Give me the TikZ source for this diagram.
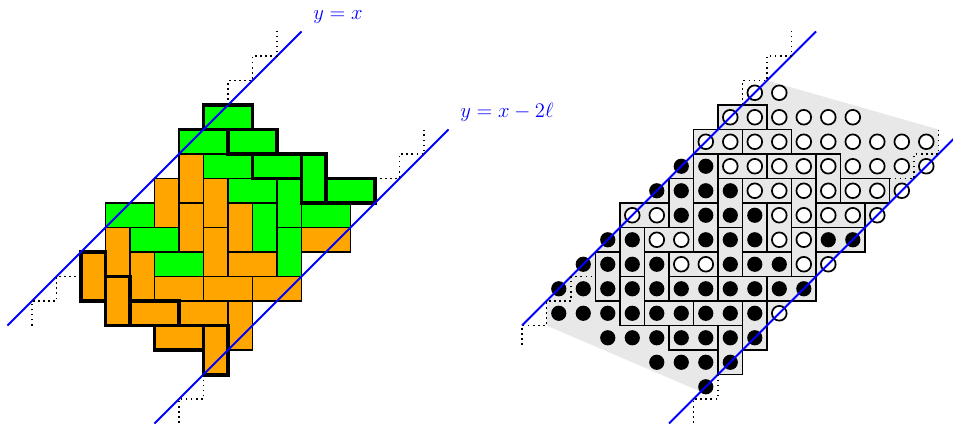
\documentclass[tikz,border=0pt]{standalone}
\definecolor{orng}{RGB}{255,165,0}
\definecolor{grn}{RGB}{0,255,0}
\definecolor{bgray}{RGB}{232,232,232}
\begin{document}
\begin{tikzpicture}[x=0.5cm,y=0.5cm,
  thinedge/.style={draw=black,line width=1.05pt},
  thickedge/.style={line width=2.3pt,line join=miter,line cap=rect},
  midedge/.style={line width=1.5pt,line join=miter,line cap=rect},
  tileR/.style={draw=black,line width=1.05pt},
  bline/.style={blue,line width=1.15pt},
  stair/.style={dotted,line width=0.95pt},
  wdot/.style={draw=black,fill=white,line width=1pt},
  lbl/.style={anchor=base west,inner sep=0pt,text=blue,font=\large}]
\useasboundingbox (-3.306,-2.061) rectangle (35.59,15.286);

% ================= left picture =================
% fills
\foreach \i/\k in {5/0,4/1,6/1,5/2,7/2,6/3,10/3,1/4,9/4,2/5,3/6}
  \fill[grn] (\i,{11-\k}) rectangle ({\i+2},{10-\k});
\foreach \i/\k in {9/2,8/3,7/4,8/5}
  \fill[grn] (\i,{11-\k}) rectangle ({\i+1},{9-\k});
\foreach \i/\k in {9/5,6/6,3/7,5/7,7/7,2/8,4/8,3/9}
  \fill[orng] (\i,{11-\k}) rectangle ({\i+2},{10-\k});
\foreach \i/\k in {4/2,3/3,5/3,4/4,6/4,1/5,5/5,0/6,2/6,1/7,6/8,5/9}
  \fill[orng] (\i,{11-\k}) rectangle ({\i+1},{9-\k});
% outlines
\foreach \i/\k in {5/0,4/1,6/1,5/2,7/2,6/3,10/3,1/4,9/4,2/5,3/6,9/5,6/6,3/7,5/7,7/7,2/8,4/8,3/9}
  \path[thinedge] (\i,{11-\k}) rectangle ({\i+2},{10-\k});
\foreach \i/\k in {9/2,8/3,7/4,8/5,4/2,3/3,5/3,4/4,6/4,1/5,5/5,0/6,2/6,1/7,6/8,5/9}
  \path[thinedge] (\i,{11-\k}) rectangle ({\i+1},{9-\k});
% thick chains
\draw[midedge] (4,9) -- (4,10) -- (5,10);
\foreach \a/\b/\c/\d in {0/5/1/3,1/4/2/2,2/3/4/2,3/2/5/1,5/2/6/0,
                         5/11/7/10,6/10/8/9,7/9/9/8,9/9/10/7,10/8/12/7}
  \draw[thickedge] (\a,\b) rectangle (\c,\d);
% boundary lines
\draw[bline] (-3,2) -- (9,14);
\draw[bline] (3,-2) -- (15,10);
\draw[stair] (6,11) -- (6,12) -- (7,12) -- (7,13) -- (8,13) -- (8,14);
\draw[stair] (-2,2) -- (-2,3) -- (-1,3) -- (-1,4) -- (0,4);
\draw[stair] (12,8) -- (13,8) -- (13,9) -- (14,9) -- (14,10);
\draw[stair] (5,0) -- (5,-1) -- (4,-1) -- (4,-2);
\node[lbl] (labA) at (9.47,14.51) {$y=x$};
\node[lbl] (labB) at (15.47,10.49) {$y=x-2\ell$};

% ================= right picture =================
\begin{scope}[shift={(21,0)}]
\fill[bgray] (-2,3) -- (7,12) -- (14,10) -- (14,9) -- (4.3,-0.7) -- (-2,2) -- cycle;
\foreach \i/\k in {5/0,4/1,6/1,5/2,7/2,6/3,10/3,1/4,9/4,2/5,3/6,9/5,6/6,3/7,5/7,7/7,2/8,4/8,3/9}
  \fill[bgray] (\i,{11-\k}) rectangle ({\i+2},{10-\k});
\foreach \i/\k in {9/2,8/3,7/4,8/5,4/2,3/3,5/3,4/4,6/4,1/5,5/5,0/6,2/6,1/7,6/8,5/9}
  \fill[bgray] (\i,{11-\k}) rectangle ({\i+1},{9-\k});
\foreach \i/\k in {5/0,4/1,6/1,5/2,7/2,6/3,10/3,1/4,9/4,2/5,3/6,9/5,6/6,3/7,5/7,7/7,2/8,4/8,3/9}
  \path[tileR] (\i,{11-\k}) rectangle ({\i+2},{10-\k});
\foreach \i/\k in {9/2,8/3,7/4,8/5,4/2,3/3,5/3,4/4,6/4,1/5,5/5,0/6,2/6,1/7,6/8,5/9}
  \path[tileR] (\i,{11-\k}) rectangle ({\i+1},{9-\k});
% white particles
\foreach \k/\a/\b in {-1/6/7,0/5/10,1/4/13,2/5/13,3/6/12,4/1/2,4/7/11,5/2/3,5/7/8,6/3/4,6/8/9,8/7/7}
  \foreach \i in {\a,...,\b}
    \draw[wdot] ({\i+0.5},{10.5-(\k)}) circle (0.3);
% black particles
\foreach \k/\a/\b in {2/3/4,3/2/5,4/3/6,5/0/1,5/4/6,5/9/10,6/-1/2,6/5/7,7/-2/8,8/-2/6,9/0/6,10/2/5,11/4/4}
  \foreach \i in {\a,...,\b}
    \fill[black] ({\i+0.5},{10.5-(\k)}) circle (0.31);
\draw[bline] (-3,2) -- (9,14);
\draw[bline] (3,-2) -- (15,10);
\draw[stair] (6,11) -- (6,12) -- (7,12) -- (7,13) -- (8,13) -- (8,14);
\draw[stair] (-3,1.2) -- (-3,2) -- (-2,2) -- (-2,3) -- (-1,3) -- (-1,4) -- (0,4);
\draw[stair] (12,8) -- (13,8) -- (13,9) -- (14,9) -- (14,10);
\draw[stair] (5,0) -- (5,-1) -- (4,-1) -- (4,-2);
\end{scope}
\end{tikzpicture}
\end{document}
